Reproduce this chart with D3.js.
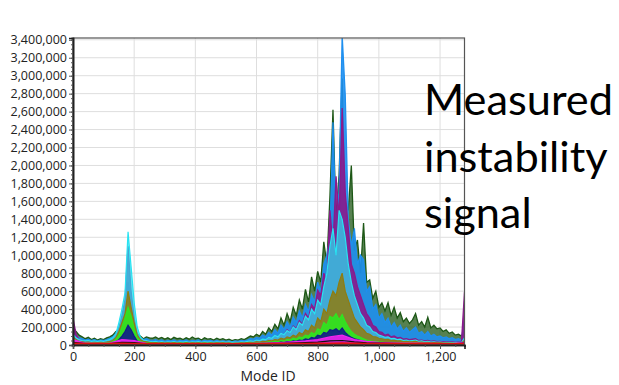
<!DOCTYPE html>
<html><head><meta charset="utf-8">
<script src="https://cdn.jsdelivr.net/npm/d3@7"></script>
<style>body{margin:0;background:#fff}svg{display:block}</style>
</head><body><svg id="c" width="619" height="385"></svg>
<script>
// ---- data (values in thousands) ----
const modes = d3.range(0, 1281, 10);        // Mode ID samples, step 10
const coarseModes = d3.range(0, 1281, 40);  // Mode ID samples, step 40

const darkGreen = [
 200,150,110,90,70,85,60,75,55,70,
 60,80,90,110,150,160,220,300,380,280,
 180,120,100,70,90,80,75,90,70,85,
 65,80,60,85,70,75,60,80,65,90,
 70,75,55,80,65,70,55,75,60,70,
 55,65,50,60,55,70,60,80,100,90,
 120,100,150,120,190,150,230,180,300,220,
 350,260,420,330,500,400,620,480,760,600,
 820,700,1150,900,1650,2620,1400,1900,2970,1600,
 1500,2000,1050,1170,800,1360,700,725,520,600,
 420,470,380,470,330,420,300,360,260,300,
 240,280,350,220,260,200,310,190,220,180,
 190,150,170,130,145,110,120,100,160];
const blue = [
 150,110,80,70,55,65,50,60,45,55,
 50,60,75,90,130,200,280,400,700,450,
 230,110,80,60,70,55,50,60,45,55,
 40,50,45,55,40,50,45,55,40,50,
 45,55,40,50,45,50,40,50,40,45,
 40,45,35,45,40,50,45,55,70,65,
 85,75,110,90,140,110,170,130,220,170,
 260,200,310,250,380,300,450,370,560,480,
 700,600,900,1000,1200,2480,1300,1700,3450,2790,
 1400,1100,1300,900,1000,950,600,650,400,450,
 300,350,250,300,200,250,180,220,150,190,
 140,170,200,130,150,110,150,100,120,90,
 100,80,90,70,80,60,70,55,300];
const purple = [
 300,120,60,45,35,40,30,35,30,35,
 30,40,50,70,110,180,330,500,1100,600,
 300,130,80,50,45,35,30,35,28,32,
 26,30,27,33,26,30,27,32,26,30,
 27,31,25,30,27,30,25,29,26,30,
 25,28,24,28,26,30,28,35,40,38,
 50,45,60,55,80,70,100,85,130,110,
 170,140,210,180,270,230,350,300,450,400,
 610,550,800,700,1500,1100,1880,1400,2640,1700,
 1300,900,800,650,550,450,350,300,220,200,
 150,140,110,120,90,100,80,85,65,70,
 60,65,70,50,55,45,50,40,45,38,
 40,35,38,32,34,30,32,30,590];
const cyan = [
 120,80,60,50,45,50,40,45,38,45,
 40,50,60,80,120,250,400,580,1260,870,
 470,200,90,55,50,40,35,40,32,38,
 30,36,32,38,30,35,32,38,30,36,
 32,37,30,35,32,36,30,35,31,35,
 30,34,29,33,30,35,33,40,45,42,
 55,50,65,60,85,75,105,90,130,115,
 160,140,200,170,250,220,320,280,400,350,
 500,450,650,800,1100,1300,1000,1500,1400,1200,
 900,700,550,450,350,300,220,200,150,140,
 110,100,85,90,70,75,60,65,50,55,
 45,50,55,40,45,35,40,32,35,30,
 32,28,30,26,28,25,26,25,80];
const olive = [
 90,60,40,35,30,32,28,30,26,30,
 28,32,38,50,80,150,250,350,600,420,
 250,110,60,40,35,30,24,27,22,26,
 21,25,22,26,21,24,22,26,21,25,
 22,25,20,24,22,25,20,24,21,24,
 20,23,19,22,20,24,22,27,30,28,
 35,32,40,38,50,45,60,55,75,65,
 90,80,110,95,140,120,170,150,220,190,
 300,260,400,350,500,600,550,700,800,600,
 500,400,300,250,200,170,130,120,95,90,
 75,70,60,62,50,52,45,46,38,40,
 35,37,40,30,33,27,30,25,27,23,
 24,21,22,20,21,19,20,19,50];
const lime = [
 70,45,30,25,22,24,20,22,19,22,
 20,24,28,38,60,110,200,300,420,320,
 180,80,45,30,26,22,17,19,16,18,
 15,18,16,19,15,17,16,19,15,18,
 16,18,15,17,16,18,15,17,15,17,
 14,16,14,16,15,17,16,19,22,20,
 25,23,28,27,35,32,42,38,50,45,
 60,55,75,65,90,80,110,100,140,120,
 180,160,250,220,320,300,350,280,340,260,
 200,150,120,100,85,70,55,50,42,40,
 34,32,28,28,24,25,22,22,19,20,
 18,18,20,16,17,15,16,14,15,13,
 14,12,13,12,12,11,12,11,30];
const navy = [
 40,28,20,16,14,15,13,14,12,14,
 13,15,18,24,35,60,100,150,220,170,
 100,45,28,20,17,15,11,12,10,12,
 10,12,10,12,10,11,10,12,10,12,
 10,12,10,11,10,12,10,11,10,11,
 9,11,9,10,10,11,10,12,14,13,
 16,15,18,17,22,20,26,24,32,28,
 38,34,46,40,55,50,68,60,85,75,
 110,100,140,130,170,160,180,150,190,140,
 110,85,70,60,50,42,34,31,26,25,
 21,20,18,18,15,16,14,14,12,13,
 11,12,12,10,11,10,10,9,10,9,
 9,8,9,8,8,8,8,8,20];
const magenta = [60,20,18,22,60,50,18,15,16,14,15,14,15,13,15,18,22,28,35,45,60,90,110,60,40,30,25,20,22,18,16,15,30];
const black   = [30,15,14,16,30,28,14,12,12,11,12,11,12,11,12,14,16,18,22,26,32,45,50,35,25,20,18,16,15,14,13,12,20];
const red     = [15,12,11,12,14,13,11,11,11,10,11,10,11,10,11,11,12,12,13,13,14,15,16,14,13,12,12,11,11,11,11,10,12];

const xTicks = [0,200,400,600,800,1000,1200];
const yTicks = d3.range(0, 3400001, 200000);
const xLabel = "Mode ID";
const titleLines = ["Measured","instability","signal"];

const series = [
 {m: modes, v: darkGreen, c: "#1d5716", w: 1.3, fo: 0.75},
 {m: modes, v: blue,      c: "#1e8fef", w: 1.3, fo: 0.9},
 {m: modes, v: purple,    c: "#8a1a8c", w: 1.3, fo: 0.9},
 {m: modes, v: cyan,      c: "#27e3f2", w: 1.2, fo: 0.7},
 {m: modes, v: olive,     c: "#8f7d10", w: 1.2, fo: 0.85},
 {m: modes, v: lime,      c: "#2ee620", w: 1.2, fo: 0.9},
 {m: modes, v: navy,      c: "#101a8a", w: 1.2, fo: 0.9},
 {m: coarseModes, v: magenta, c: "#ee22ee", w: 1.2, fo: 0.9},
 {m: coarseModes, v: black,   c: "#111111", w: 1.2, fo: 0},
 {m: coarseModes, v: red,     c: "#e01010", w: 2.4, fo: 1}
];

// ---- layout ----
const svg = d3.select("#c");
const L = 73, R = 464.5, T = 38, B = 345;
const x = d3.scaleLinear().domain([0, 1280]).range([L, R]);
const y = d3.scaleLinear().domain([0, 3420000]).range([B, T]);

// grid
const g = svg.append("g");
g.selectAll(".hg").data(yTicks.slice(1)).join("line")
  .attr("x1", L).attr("x2", R).attr("y1", d => y(d)).attr("y2", d => y(d))
  .attr("stroke", "#dedede").attr("stroke-width", 1);
g.selectAll(".vg").data(xTicks.slice(1)).join("line")
  .attr("y1", T).attr("y2", B).attr("x1", d => x(d)).attr("x2", d => x(d))
  .attr("stroke", "#dedede").attr("stroke-width", 1);

// clip
svg.append("clipPath").attr("id", "clip").append("rect")
  .attr("x", L).attr("y", T).attr("width", R - L).attr("height", B - T);

const line = d3.line().x(d => x(d[0])).y(d => y(d[1] * 1000));
const area = d3.area().x(d => x(d[0])).y0(y(0)).y1(d => y(d[1] * 1000));
const pg = svg.append("g").attr("clip-path", "url(#clip)");
series.forEach(s => {
  const pts = s.m.map((mm, i) => [mm, s.v[i]]);
  if (s.fo > 0) pg.append("path").datum(pts).attr("d", area)
    .attr("fill", s.c).attr("fill-opacity", s.fo);
  pg.append("path").datum(pts)
    .attr("d", line).attr("fill", "none")
    .attr("stroke", s.c).attr("stroke-width", s.w).attr("stroke-linejoin", "miter");
});

// frame
svg.append("rect").attr("x", L).attr("y", T).attr("width", R - L).attr("height", B - T)
  .attr("fill", "none").attr("stroke", "#555").attr("stroke-width", 1.2);

// axes
const font = "'Open Sans', 'DejaVu Sans', sans-serif";
const ya = svg.append("g").attr("transform", `translate(${L},0)`)
  .call(d3.axisLeft(y).tickValues(yTicks).tickFormat(d3.format(",")).tickSize(4).tickPadding(2));
const yam = svg.append("g").attr("transform", `translate(${L},0)`)
  .call(d3.axisLeft(y).tickValues(d3.range(0, 3400001, 50000)).tickFormat("").tickSize(2));
const xa = svg.append("g").attr("transform", `translate(0,${B})`)
  .call(d3.axisBottom(x).tickValues(xTicks).tickFormat(d3.format(",")).tickSize(4).tickPadding(3));
const xam = svg.append("g").attr("transform", `translate(0,${B})`)
  .call(d3.axisBottom(x).tickValues(d3.range(0, 1281, 50)).tickFormat("").tickSize(2));
[ya, yam, xa, xam].forEach(a => {
  a.select(".domain").attr("stroke", "#222").attr("stroke-width", 1.6);
  a.selectAll(".tick line").attr("stroke", "#555");
  a.selectAll("text").attr("font-family", font).attr("font-size", 12.5).attr("fill", "#222");
});

svg.append("text").text(xLabel).attr("x", 268).attr("y", 381)
  .attr("text-anchor", "middle").attr("font-family", font).attr("font-size", 14).attr("fill", "#222");

// overlay text
const bigFont = "Lato, 'Open Sans', sans-serif";
const tg = svg.append("g");
const baselines = [115, 171.5, 228];
const t0 = tg.append("text").text(titleLines[0]).attr("font-family", bigFont).attr("font-size", 46);
const w0 = t0.node().getComputedTextLength();
t0.remove();
const fs = 46 * 189 / w0;
titleLines.forEach((t, i) => {
  tg.append("text").text(t).attr("x", 424).attr("y", baselines[i])
    .attr("font-family", bigFont).attr("font-size", fs).attr("fill", "#000");
});
</script></body></html>
